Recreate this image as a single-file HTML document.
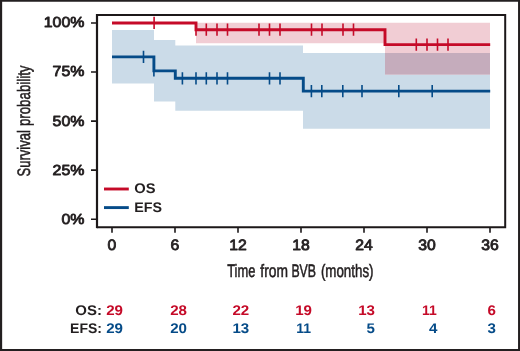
<!DOCTYPE html>
<html>
<head>
<meta charset="utf-8">
<title>Survival</title>
<style>
html,body{margin:0;padding:0;background:#fff;}
body{width:520px;height:351px;overflow:hidden;}
svg{display:block;will-change:transform;}
text{font-family:"Liberation Sans",sans-serif;text-rendering:geometricPrecision;}
.b{font-size:14px;fill:#231f20;stroke:#231f20;stroke-width:0.85px;stroke-linejoin:round;}
.bb{font-weight:bold;font-size:14px;fill:#231f20;}
.r{fill:#c50a28;}
.u{fill:#054b88;}
</style>
</head>
<body>
<svg width="520" height="351" viewBox="0 0 520 351">
<rect x="0" y="0" width="520" height="351" fill="#fff"/>
<!-- outer border -->
<path fill="#231f20" d="M0,0H520V351H0Z M2.15,1.8V349H518.05V1.8Z" fill-rule="evenodd"/>

<!-- CI bands -->
<path fill="#cbdbe8" d="M112,29.9H154V40H175.3V45.6H303V53H490V128.7H303V110.7H175.3V101.5H154V83.6H112Z"/>
<path fill="#f1cdd4" d="M196,22.8H490V74.5H385V43.3H196Z"/>
<rect fill="#c5acbc" x="385" y="53" width="105" height="21.5"/>

<!-- EFS curve -->
<g stroke="#054b88" fill="none">
<path d="M112,56.85H153.9V70.9H175.3V78.3H303.3V91.1H490.2" stroke-width="2.9" stroke-linejoin="miter"/>
<path stroke-width="1.6" d="M143.5,50.8V63M153.9,64.5V76.6M182.4,72.2V84.4M196,72.2V84.4M206.3,72.2V84.4M217,72.2V84.4M227.5,72.2V84.4M269.5,72.2V84.4M280,72.2V84.4M311.4,85V97.2M321.8,85V97.2M342.8,85V97.2M362,85V97.2M398.8,85V97.2M432.2,85V97.2"/>
</g>

<!-- OS curve -->
<g stroke="#c50a28" fill="none">
<path d="M112,22.95H196V29.7H385V44.6H490.2" stroke-width="2.9" stroke-linejoin="miter"/>
<path stroke-width="1.6" d="M154.1,16.8V29M196,23.6V35.8M206.3,23.6V35.8M217,23.6V35.8M227.5,23.6V35.8M259,23.6V35.8M269.5,23.6V35.8M280,23.6V35.8M311.5,23.6V35.8M322,23.6V35.8M343,23.6V35.8M353.5,23.6V35.8M416.3,38.5V50.7M427,38.5V50.7M437.5,38.5V50.7M448,38.5V50.7"/>
</g>

<!-- plot box -->
<path d="M97,14V228.15" stroke="#1c1819" stroke-width="2.2" fill="none"/>
<path d="M97,15H505.2V227.15H97" fill="none" stroke="#1c1819" stroke-width="2" stroke-linejoin="miter"/>

<!-- axis ticks -->
<g stroke="#1c1819" stroke-width="1.6" fill="none">
<path d="M91,22.95H96M91,72H96M91,121.1H96M91,170.1H96M91,219.2H96"/>
<path d="M112,227.5V232.8M175,227.5V232.8M238,227.5V232.8M301,227.5V232.8M364,227.5V232.8M427,227.5V232.8M490,227.5V232.8"/>
</g>

<!-- y tick labels -->
<g class="b" text-anchor="end" style="font-size:14.6px">
<text transform="translate(84.4,27.40) scale(1.09,1)">100%</text>
<text transform="translate(84.4,76.45) scale(1.09,1)">75%</text>
<text transform="translate(84.4,125.55) scale(1.09,1)">50%</text>
<text transform="translate(84.4,174.60) scale(1.09,1)">25%</text>
<text transform="translate(84.4,223.65) scale(1.09,1)">0%</text>
</g>

<!-- x tick labels -->
<g class="b" text-anchor="middle" style="font-size:15px">
<text transform="translate(112.0,250.0) scale(1.05,1)">0</text>
<text transform="translate(175.0,250.0) scale(1.05,1)">6</text>
<text transform="translate(238.0,250.0) scale(1.05,1)">12</text>
<text transform="translate(301.0,250.0) scale(1.05,1)">18</text>
<text transform="translate(364.0,250.0) scale(1.05,1)">24</text>
<text transform="translate(427.0,250.0) scale(1.05,1)">30</text>
<text transform="translate(490.0,250.0) scale(1.05,1)">36</text>
</g>

<!-- axis titles -->
<g font-size="18" fill="#231f20" stroke="#231f20" stroke-width="0.55">
<text x="227.2" y="277.4" textLength="28.2" lengthAdjust="spacingAndGlyphs">Time</text>
<text x="260.3" y="277.4" textLength="27.6" lengthAdjust="spacingAndGlyphs">from</text>
<text x="291.4" y="277.4" textLength="24.6" lengthAdjust="spacingAndGlyphs">BVB</text>
<text x="320.9" y="277.4" textLength="52.6" lengthAdjust="spacingAndGlyphs">(months)</text>
<text transform="translate(29.6,176.4) rotate(-90)" textLength="46.2" lengthAdjust="spacingAndGlyphs">Survival</text>
<text transform="translate(29.6,126.1) rotate(-90)" textLength="60.6" lengthAdjust="spacingAndGlyphs">probability</text>
</g>

<!-- legend -->
<path d="M104,189H128.8" stroke="#c50a28" stroke-width="2.9"/>
<path d="M104,207.6H128.8" stroke="#054b88" stroke-width="2.9"/>
<text class="bb" transform="translate(134.2,193.3) scale(1.05,1)">OS</text>
<text class="bb" transform="translate(134.2,211.9) scale(1.02,1)">EFS</text>

<!-- risk table -->
<g class="bb" text-anchor="end">
<text transform="translate(102,314.8) scale(1.07,1)">OS:</text>
<text transform="translate(102,333.3) scale(1.0,1)">EFS:</text>
</g>
<g class="bb r" text-anchor="end">
<text transform="translate(123,314.8) scale(1.08,1)">29</text>
<text transform="translate(187,314.8) scale(1.08,1)">28</text>
<text transform="translate(249.2,314.8) scale(1.08,1)">22</text>
<text transform="translate(312,314.8) scale(1.08,1)">19</text>
<text transform="translate(375,314.8) scale(1.08,1)">13</text>
<text transform="translate(436.7,314.8) scale(1.0,1)">11</text>
<text transform="translate(496,314.8) scale(1.08,1)">6</text>
</g>
<g class="bb u" text-anchor="end">
<text transform="translate(123,333.3) scale(1.08,1)">29</text>
<text transform="translate(187,333.3) scale(1.08,1)">20</text>
<text transform="translate(249.2,333.3) scale(1.08,1)">13</text>
<text transform="translate(311,333.3) scale(1.0,1)">11</text>
<text transform="translate(375,333.3) scale(1.08,1)">5</text>
<text transform="translate(437.5,333.3) scale(1.08,1)">4</text>
<text transform="translate(496,333.3) scale(1.08,1)">3</text>
</g>
</svg>
</body>
</html>
